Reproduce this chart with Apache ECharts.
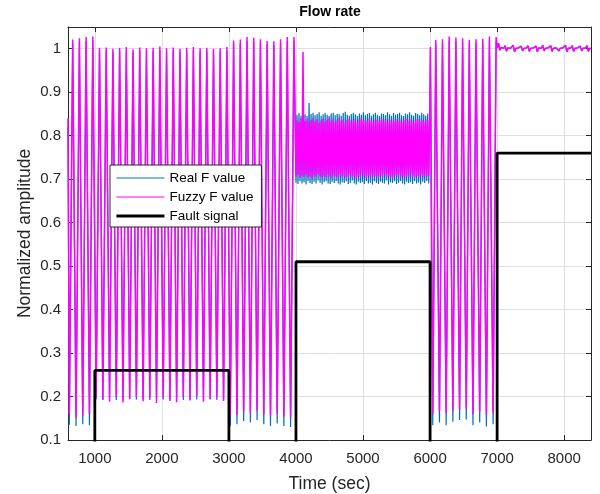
<!DOCTYPE html>
<html>
<head>
<meta charset="utf-8">
<script src="https://cdn.jsdelivr.net/npm/echarts@6/dist/echarts.min.js"></script>
<style>
  html, body { margin: 0; padding: 0; background: #fff; }
  #chart { width: 600px; height: 494px; }
</style>
</head>
<body>
<div id="chart"></div>
<script>
// ---- axis ranges and tick steps ----
const timeRange = [600, 8400];
const timeStep = 1000;
const ampRange = [0.1, 1.05];
const ampStep = 0.1;

// ---- large swings: one trough and one peak every 100 s ----
const swingPeriod = 100;

// value at the left edge (t = 600 s)
const realStart = 0.82;
const fuzzyStart = 0.84;

// 600 - 4000 s : troughs at 620 + 100k, peaks at 670 + 100k
const realTroughsA = [0.135, 0.132, 0.136, 0.134,
  0.194, 0.193, 0.195, 0.192, 0.194, 0.196, 0.193, 0.194, 0.192, 0.195,
  0.193, 0.194, 0.196, 0.192, 0.194, 0.193, 0.195, 0.194, 0.192, 0.194,
  0.132, 0.136, 0.144, 0.140, 0.146, 0.136, 0.132, 0.138, 0.132, 0.130];
const realPeaksA = [1.012, 1.015, 1.018, 1.019,
  0.994, 0.995, 0.992, 0.994, 0.996, 0.991, 0.995, 0.993, 0.994, 0.997,
  0.993, 0.995, 0.992, 0.994, 0.996, 0.993, 0.994, 0.992, 0.993, 0.996,
  1.010, 1.012, 1.018, 1.016, 1.013, 1.009, 1.008, 1.013, 1.018, 1.018];
const fuzzyTroughsA = [0.158, 0.152, 0.156, 0.160,
  0.199, 0.192, 0.188, 0.197, 0.186, 0.194, 0.199, 0.189, 0.196, 0.185,
  0.198, 0.190, 0.187, 0.197, 0.191, 0.200, 0.188, 0.194, 0.198, 0.190,
  0.155, 0.158, 0.165, 0.162, 0.168, 0.158, 0.155, 0.160, 0.154, 0.152];
const fuzzyPeaksA = [1.021, 1.024, 1.027, 1.028,
  1.002, 1.003, 1.000, 1.002, 1.004, 0.999, 1.003, 1.001, 1.002, 1.005,
  1.001, 1.003, 1.000, 1.002, 1.004, 1.001, 1.002, 1.000, 1.001, 1.004,
  1.019, 1.021, 1.027, 1.025, 1.022, 1.018, 1.017, 1.022, 1.027, 1.027];

// ---- 4000 - 6000 s : fast ripple band, lows at 4000 + 30k, highs 15 s later ----
const bandStep = 30;
const bandRealLow = [
  0.692, 0.689, 0.695, 0.690, 0.693, 0.688, 0.696, 0.691, 0.689, 0.694,
  0.690, 0.697, 0.692, 0.688, 0.693, 0.695, 0.690, 0.689, 0.694, 0.691,
  0.696, 0.690, 0.688, 0.693, 0.691, 0.695, 0.689, 0.692, 0.697, 0.690,
  0.688, 0.694, 0.691, 0.693, 0.689, 0.696, 0.690, 0.692, 0.688, 0.695,
  0.691, 0.689, 0.694, 0.692, 0.690, 0.697, 0.688, 0.693, 0.691, 0.695,
  0.689, 0.692, 0.696, 0.690, 0.688, 0.694, 0.691, 0.693, 0.689, 0.695,
  0.690, 0.692, 0.688, 0.694, 0.691, 0.696, 0.690];
const bandRealHigh = [
  0.848, 0.852, 0.846, 0.851, 0.849, 0.845, 0.875, 0.850, 0.853, 0.847,
  0.850, 0.854, 0.846, 0.849, 0.852, 0.848, 0.845, 0.851, 0.853, 0.847,
  0.850, 0.849, 0.846, 0.852, 0.855, 0.848, 0.846, 0.850, 0.853, 0.849,
  0.845, 0.851, 0.848, 0.854, 0.847, 0.850, 0.852, 0.846, 0.849, 0.853,
  0.848, 0.845, 0.851, 0.850, 0.847, 0.854, 0.849, 0.846, 0.852, 0.848,
  0.850, 0.853, 0.847, 0.845, 0.851, 0.849, 0.854, 0.848, 0.846, 0.852,
  0.850, 0.847, 0.853, 0.849, 0.846, 0.851, 0.848];
const bandFuzzyLow = [
  0.706, 0.710, 0.703, 0.708, 0.705, 0.711, 0.704, 0.707, 0.702, 0.709,
  0.705, 0.712, 0.706, 0.703, 0.708, 0.704, 0.710, 0.706, 0.702, 0.709,
  0.707, 0.704, 0.711, 0.705, 0.708, 0.703, 0.706, 0.710, 0.704, 0.707,
  0.702, 0.709, 0.705, 0.711, 0.706, 0.703, 0.708, 0.704, 0.710, 0.705,
  0.707, 0.703, 0.709, 0.706, 0.712, 0.704, 0.708, 0.705, 0.702, 0.709,
  0.706, 0.710, 0.704, 0.707, 0.703, 0.709, 0.705, 0.711, 0.706, 0.704,
  0.708, 0.705, 0.710, 0.703, 0.707, 0.706, 0.709];
const bandFuzzyHigh = [
  0.836, 0.832, 0.839, 0.993, 0.834, 0.838, 0.831, 0.836, 0.840, 0.833,
  0.837, 0.830, 0.835, 0.839, 0.832, 0.836, 0.841, 0.834, 0.838, 0.831,
  0.835, 0.840, 0.833, 0.837, 0.829, 0.836, 0.839, 0.832, 0.835, 0.838,
  0.830, 0.837, 0.841, 0.834, 0.836, 0.832, 0.839, 0.835, 0.831, 0.838,
  0.836, 0.833, 0.840, 0.834, 0.837, 0.830, 0.838, 0.835, 0.832, 0.839,
  0.834, 0.837, 0.831, 0.836, 0.840, 0.833, 0.838, 0.835, 0.830, 0.837,
  0.839, 0.834, 0.836, 0.832, 0.838, 0.835, 0.837];

// ---- 6000 - 7000 s : swings again, first rise at 6005 s ----
const realRiseC = 1.000;
const fuzzyRiseC = 1.004;
const realTroughsC = [0.134, 0.140, 0.134, 0.142, 0.146, 0.147, 0.134, 0.140, 0.131, 0.136];
const realPeaksC = [1.011, 1.013, 1.019, 1.017, 1.015, 1.011, 1.013, 1.014, 1.019, 1.018];
const fuzzyTroughsC = [0.160, 0.166, 0.162, 0.168, 0.170, 0.172, 0.160, 0.165, 0.158, 0.162];
const fuzzyPeaksC = [1.020, 1.022, 1.028, 1.026, 1.024, 1.020, 1.022, 1.023, 1.028, 1.027];

// ---- 7000 - 8400 s : settled near 1, one sample every 20 s ----
const steadyStep = 20;
const steadyD = [
  1.002, 1.013, 0.997, 1.003, 0.999, 1.001, 1.007, 0.994, 1.002, 0.999,
  1.001, 1.003, 1.008, 0.993, 1.001, 1.000, 1.002, 0.999, 1.006, 0.995,
  1.001, 1.000, 1.002, 1.007, 0.994, 1.001, 0.999, 1.002, 1.000, 1.006,
  0.993, 1.002, 1.000, 1.001, 1.008, 0.995, 1.001, 0.999, 1.002, 1.000,
  1.007, 0.994, 1.001, 1.000, 1.002, 1.006, 0.995, 1.001, 0.999, 1.002,
  1.000, 1.008, 0.993, 1.001, 1.000, 1.002, 1.007, 0.994, 1.001, 0.999,
  1.002, 1.000, 1.006, 0.995, 1.001, 1.000, 1.002, 1.007, 0.994, 1.001, 1.000];

// ---- fault signal steps ----
const faultTimes  = [600, 1000, 1000, 3000, 3000, 4000, 4000, 6000, 6000, 7000, 7000, 8400];
const faultLevels = [0,   0,    0.26, 0.26, 0,    0,    0.51, 0.51, 0,    0,    0.76, 0.76];

// ---- build [time, value] pairs ----
function swings(troughStart, peakStart, troughs, peaks) {
  const out = [];
  for (let i = 0; i < troughs.length; i++) {
    out.push([troughStart + i * swingPeriod, troughs[i]]);
    out.push([peakStart + i * swingPeriod, peaks[i]]);
  }
  return out;
}
function band(start, lows, highs) {
  const out = [];
  for (let i = 0; i < lows.length; i++) {
    out.push([start + i * bandStep, lows[i]]);
    out.push([start + i * bandStep + bandStep / 2, highs[i]]);
  }
  return out;
}
function steady(start, vals) {
  return vals.map((v, i) => [start + i * steadyStep, v]);
}

const realData = [[600, realStart]]
  .concat(swings(620, 670, realTroughsA, realPeaksA))
  .concat(band(4000, bandRealLow, bandRealHigh))
  .concat([[6005, realRiseC]])
  .concat(swings(6040, 6085, realTroughsC, realPeaksC))
  .concat(steady(7000, steadyD));

const fuzzyData = [[600, fuzzyStart]]
  .concat(swings(620, 670, fuzzyTroughsA, fuzzyPeaksA))
  .concat(band(4000, bandFuzzyLow, bandFuzzyHigh))
  .concat([[6005, fuzzyRiseC]])
  .concat(swings(6040, 6085, fuzzyTroughsC, fuzzyPeaksC))
  .concat(steady(7000, steadyD));

const faultData = faultTimes.map((t, i) => [t, faultLevels[i]]);

// ---- styling ----
const FONT = 'Liberation Sans, Arial, Helvetica, sans-serif';
const AXIS_COLOR = '#262626';
const GRID_COLOR = '#dfdfdf';
const REAL_COLOR = '#0072BD';
const FUZZY_COLOR = '#FF00FF';

const timeLabel = v => (Math.abs(v % timeStep) < 1e-6 ? String(v) : '');
const ampLabel = v => {
  const k = v / ampStep;
  return Math.abs(k - Math.round(k)) < 1e-6 ? String(+v.toFixed(1)) : '';
};

function xAxisDef(pos, main) {
  return {
    type: 'value', position: pos,
    min: timeRange[0], max: timeRange[1],
    splitNumber: 8, minInterval: timeStep, maxInterval: timeStep,
    axisLine: { show: true, onZero: false, lineStyle: { color: AXIS_COLOR, width: 1 } },
    axisTick: { show: true, inside: true, length: 5, lineStyle: { color: AXIS_COLOR, width: 1 } },
    axisLabel: { show: main, margin: 11, fontSize: 15, color: AXIS_COLOR, fontFamily: FONT, formatter: timeLabel },
    splitLine: { show: main, lineStyle: { color: GRID_COLOR, width: 1 } },
    name: main ? 'Time (sec)' : '', nameLocation: 'middle', nameGap: 35,
    nameTextStyle: { fontSize: 17.5, color: AXIS_COLOR, fontFamily: FONT }
  };
}
function yAxisDef(pos, main) {
  return {
    type: 'value', position: pos,
    min: ampRange[0], max: ampRange[1], interval: ampStep,
    axisLine: { show: true, onZero: false, lineStyle: { color: AXIS_COLOR, width: 1 } },
    axisTick: { show: true, inside: true, length: 5, lineStyle: { color: AXIS_COLOR, width: 1 } },
    axisLabel: { show: main, margin: 7, fontSize: 15, color: AXIS_COLOR, fontFamily: FONT, formatter: ampLabel },
    splitLine: { show: main, lineStyle: { color: GRID_COLOR, width: 1 } },
    name: main ? 'Normalized amplitude' : '', nameLocation: 'middle', nameGap: 34,
    nameMoveOverlap: false,
    nameTextStyle: { fontSize: 17.5, color: AXIS_COLOR, fontFamily: FONT }
  };
}

const chart = echarts.init(document.getElementById('chart'), null, { renderer: 'canvas' });
chart.setOption({
  animation: false,
  backgroundColor: '#fff',
  grid: { left: 68, right: 9, top: 27, bottom: 54, containLabel: false, outerBoundsMode: 'none' },
  graphic: [{
    type: 'text', x: 330, y: 12,
    style: { text: 'Flow rate', fill: '#000', font: 'bold 14px ' + FONT, textAlign: 'center', textVerticalAlign: 'middle' }
  }],
  legend: {
    data: [
      { name: 'Real F value', lineStyle: { width: 1 } },
      { name: 'Fuzzy F value', lineStyle: { width: 1 } },
      { name: 'Fault signal', lineStyle: { width: 2.8 } }
    ],
    orient: 'vertical', left: 110, top: 165,
    itemWidth: 48, itemHeight: 14, itemGap: 5,
    padding: [6, 8, 4, 5],
    backgroundColor: '#fff', borderColor: AXIS_COLOR, borderWidth: 1, borderRadius: 0,
    selectedMode: false,
    itemStyle: { opacity: 0 },
    textStyle: { fontFamily: FONT, fontSize: 13.5, color: '#000' }
  },
  xAxis: [xAxisDef('bottom', true), xAxisDef('top', false)],
  yAxis: [yAxisDef('left', true), yAxisDef('right', false)],
  series: [
    {
      name: 'Real F value', type: 'line', data: realData,
      xAxisIndex: 0, yAxisIndex: 0,
      symbol: 'none', showSymbol: false, clip: true, z: 2,
      lineStyle: { color: REAL_COLOR, width: 1.2 }, itemStyle: { color: REAL_COLOR }
    },
    {
      name: 'Fuzzy F value', type: 'line', data: fuzzyData,
      xAxisIndex: 0, yAxisIndex: 0,
      symbol: 'none', showSymbol: false, clip: true, z: 3,
      lineStyle: { color: FUZZY_COLOR, width: 1.5 }, itemStyle: { color: FUZZY_COLOR }
    },
    {
      name: 'Fault signal', type: 'line', data: faultData,
      xAxisIndex: 0, yAxisIndex: 0,
      symbol: 'none', showSymbol: false, clip: true, z: 4,
      lineStyle: { color: '#000', width: 2.8 }, itemStyle: { color: '#000' }
    }
  ]
});
</script>
</body>
</html>
